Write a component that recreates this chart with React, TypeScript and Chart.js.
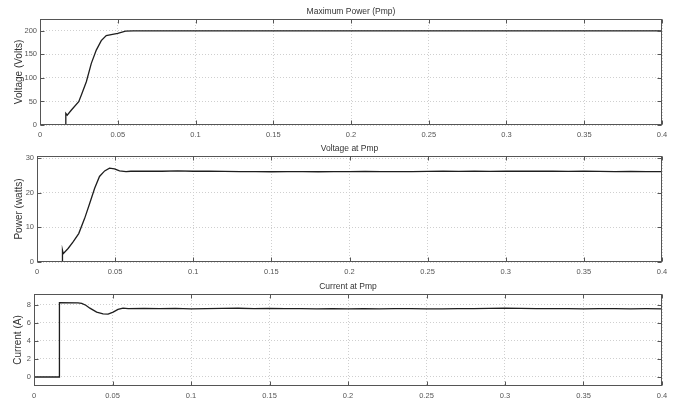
import React, { useEffect, useRef } from "react";
import { Chart, registerables } from "chart.js";

Chart.register(...registerables);

// ---------- data ----------
const xTicks = [0, 0.05, 0.1, 0.15, 0.2, 0.25, 0.3, 0.35, 0.4];
const xTickLabels = ["0", "0.05", "0.1", "0.15", "0.2", "0.25", "0.3", "0.35", "0.4"];

const panelTitles = ["Maximum Power (Pmp)", "Voltage at Pmp", "Current at Pmp"];
const yAxisTitles = ["Voltage (Volts)", "Power (watts)", "Current (A)"];

const voltTicks = [0, 50, 100, 150, 200];
const powTicks = [0, 10, 20, 30];
const curTicks = [0, 2, 4, 6, 8];

const voltTime = [0, 0.0166, 0.0166, 0.0175, 0.0202, 0.0249, 0.0266, 0.0298, 0.033, 0.0362, 0.0394, 0.0426, 0.0458, 0.05, 0.055, 0.06, 0.1, 0.15, 0.2, 0.25, 0.3, 0.35, 0.4];
const voltValues = [0, 0, 24.8, 21, 31.8, 49.5, 63.6, 91.9, 130.8, 159, 179, 190, 192, 194.5, 199.4, 200, 200, 199.8, 199.8, 199.7, 199.7, 199.6, 199.6];

const powTime = [0, 0.0163, 0.0163, 0.0168, 0.0199, 0.0231, 0.0267, 0.0305, 0.0337, 0.0369, 0.04, 0.0433, 0.0464, 0.0496, 0.0528, 0.057,
  0.06, 0.07, 0.08, 0.09, 0.1, 0.11, 0.12, 0.13, 0.14, 0.15, 0.16, 0.17, 0.18, 0.19, 0.2, 0.21, 0.22, 0.23, 0.24, 0.25, 0.26, 0.27, 0.28, 0.29, 0.3, 0.31, 0.32, 0.33, 0.34, 0.35, 0.36, 0.37, 0.38, 0.39, 0.4];
const powValues = [0, 0, 3.4, 2.4, 3.9, 5.8, 8.2, 12.6, 16.9, 21.3, 24.7, 26.3, 27.1, 26.9, 26.3, 26.1,
  26.2, 26.25, 26.2, 26.3, 26.2, 26.2, 26.15, 26.1, 26.1, 26.05, 26.1, 26.1, 26.05, 26.1, 26.1, 26.15, 26.1, 26.1, 26.1, 26.15, 26.2, 26.15, 26.2, 26.15, 26.2, 26.25, 26.2, 26.2, 26.15, 26.2, 26.15, 26.1, 26.15, 26.1, 26.1];

const curTime = [0, 0.0162, 0.0162, 0.028, 0.0304, 0.033, 0.0356, 0.0399, 0.044, 0.0472, 0.0504, 0.0535, 0.0567,
  0.06, 0.07, 0.08, 0.09, 0.1, 0.11, 0.12, 0.13, 0.14, 0.15, 0.16, 0.17, 0.18, 0.19, 0.2, 0.21, 0.22, 0.23, 0.24, 0.25, 0.26, 0.27, 0.28, 0.29, 0.3, 0.31, 0.32, 0.33, 0.34, 0.35, 0.36, 0.37, 0.38, 0.39, 0.4];
const curValues = [0, 0, 8.25, 8.22, 8.15, 7.95, 7.63, 7.19, 7.0, 6.97, 7.19, 7.5, 7.63,
  7.58, 7.6, 7.57, 7.6, 7.55, 7.58, 7.6, 7.62, 7.58, 7.6, 7.57, 7.58, 7.55, 7.58, 7.56, 7.58, 7.55, 7.57, 7.58, 7.56, 7.55, 7.57, 7.58, 7.6, 7.62, 7.6, 7.58, 7.57, 7.58, 7.56, 7.57, 7.58, 7.56, 7.57, 7.56];

// ---------- layout ----------
const W = 677;
const H = 403;
const PLOT_RIGHT = 662;
const X_AXIS_H = 16;
const Y_TITLE_SIZE = 10;

type Panel = {
  time: number[];
  values: number[];
  yTicks: number[];
  yMin: number;
  yMax: number;
  title: string;
  yTitle: string;
  left: number;
  top: number;
  bottom: number;
  yTitleCenter: number;
};

const panels: Panel[] = [
  { time: voltTime, values: voltValues, yTicks: voltTicks, yMin: 0, yMax: 225, title: panelTitles[0], yTitle: yAxisTitles[0], left: 40, top: 19, bottom: 125, yTitleCenter: 19.5 },
  { time: powTime, values: powValues, yTicks: powTicks, yMin: 0, yMax: 30.6, title: panelTitles[1], yTitle: yAxisTitles[1], left: 37, top: 156, bottom: 262, yTitleCenter: 19.5 },
  { time: curTime, values: curValues, yTicks: curTicks, yMin: -1, yMax: 9.2, title: panelTitles[2], yTitle: yAxisTitles[2], left: 34, top: 294, bottom: 386, yTitleCenter: 18 },
];

const FONT = '"Liberation Sans", Arial, sans-serif';

const framePlugin = {
  id: "matlabFrame",
  afterDraw(chart: any, _args: any, opts: any) {
    const { ctx, chartArea: a } = chart;
    const xs = chart.scales.x;
    const ys = chart.scales.y;
    const L = Math.round(a.left) + 0.5;
    const R = Math.round(a.right) - 0.5;
    const T = Math.round(a.top) + 0.5;
    const B = Math.round(a.bottom) - 0.5;
    ctx.save();
    ctx.strokeStyle = "#555555";
    ctx.lineWidth = 1;
    ctx.setLineDash([]);
    ctx.strokeRect(L, T, R - L, B - T);
    ctx.beginPath();
    for (const v of xTicks) {
      const px = Math.round(xs.getPixelForValue(v)) + 0.5;
      ctx.moveTo(px, B);
      ctx.lineTo(px, B - 4);
      ctx.moveTo(px, T);
      ctx.lineTo(px, T + 4);
    }
    for (const v of opts.yTicks as number[]) {
      const py = Math.round(ys.getPixelForValue(v)) + 0.5;
      ctx.moveTo(L, py);
      ctx.lineTo(L + 4, py);
      ctx.moveTo(R, py);
      ctx.lineTo(R - 4, py);
    }
    ctx.stroke();
    // panel title
    ctx.fillStyle = "#333333";
    ctx.font = `8.5px ${FONT}`;
    ctx.textAlign = "center";
    ctx.textBaseline = "middle";
    ctx.fillText(opts.title, (a.left + a.right) / 2, a.top - 7);
    ctx.restore();
  },
};

function makeConfig(p: Panel): any {
  const points = p.time.map((t, i) => ({ x: t, y: p.values[i] }));
  return {
    type: "line",
    data: {
      datasets: [
        {
          data: points,
          borderColor: "#1e1e1e",
          borderWidth: 1.3,
          pointRadius: 0,
          tension: 0,
          fill: false,
        },
      ],
    },
    plugins: [framePlugin],
    options: {
      animation: false,
      responsive: false,
      maintainAspectRatio: false,
      events: [],
      layout: {
        padding: { left: 0, right: W - PLOT_RIGHT, top: p.top, bottom: H - p.bottom - X_AXIS_H },
      },
      plugins: {
        legend: { display: false },
        tooltip: { enabled: false },
        title: { display: false },
        matlabFrame: { yTicks: p.yTicks, title: p.title },
      },
      scales: {
        x: {
          type: "linear",
          min: 0,
          max: 0.4,
          afterBuildTicks: (s: any) => {
            s.ticks = xTicks.map((v) => ({ value: v }));
          },
          afterFit: (s: any) => {
            s.height = X_AXIS_H;
          },
          ticks: {
            autoSkip: false,
            maxRotation: 0,
            padding: 5,
            color: "#555555",
            font: { family: FONT, size: 7.5 },
            callback: (_v: any, i: number) => xTickLabels[i],
          },
          grid: { color: "#cfcfcf", lineWidth: 1, drawTicks: false },
          border: { display: false, dash: [1, 2] },
        },
        y: {
          type: "linear",
          min: p.yMin,
          max: p.yMax,
          afterBuildTicks: (s: any) => {
            s.ticks = p.yTicks.map((v) => ({ value: v }));
          },
          afterFit: (s: any) => {
            s.width = p.left;
          },
          ticks: {
            padding: 3,
            color: "#555555",
            font: { family: FONT, size: 7.5 },
            callback: (v: any) => String(v),
          },
          grid: { color: "#cfcfcf", lineWidth: 1, drawTicks: false },
          border: { display: false, dash: [1, 2] },
          title: {
            display: true,
            text: p.yTitle,
            color: "#333333",
            font: { family: FONT, size: Y_TITLE_SIZE },
            padding: { top: p.yTitleCenter - Y_TITLE_SIZE * 0.6, bottom: 0 },
          },
        },
      },
    },
  };
}

function PanelChart({ panel }: { panel: Panel }) {
  const ref = useRef<HTMLCanvasElement | null>(null);
  useEffect(() => {
    if (!ref.current) return;
    const chart = new Chart(ref.current, makeConfig(panel));
    return () => chart.destroy();
  }, [panel]);
  return (
    <canvas
      ref={ref}
      width={W}
      height={H}
      style={{ position: "absolute", left: 0, top: 0, width: W, height: H, display: "block" }}
    />
  );
}

export default function App() {
  return (
    <div style={{ position: "absolute", left: 0, top: 0, width: W, height: H, background: "#ffffff", overflow: "hidden" }}>
      {panels.map((p, i) => (
        <PanelChart key={i} panel={p} />
      ))}
    </div>
  );
}
